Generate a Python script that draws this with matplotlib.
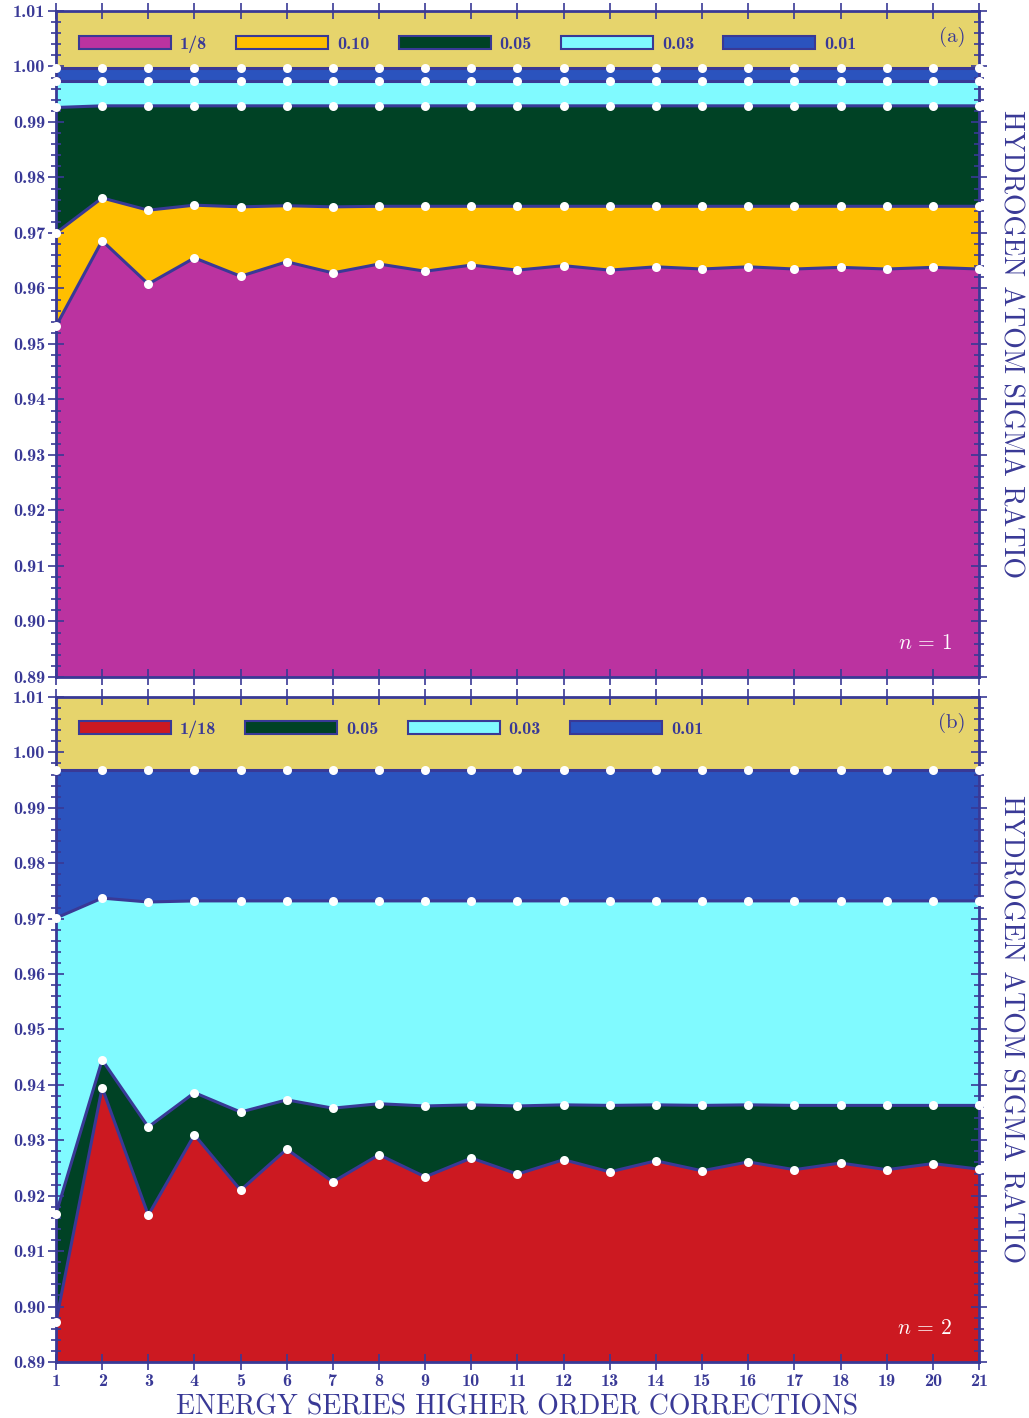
import numpy as np
import matplotlib
matplotlib.use("Agg")
import matplotlib.pyplot as plt
from matplotlib.patches import Patch
from matplotlib.ticker import MultipleLocator, FormatStrFormatter

plt.rcParams['mathtext.fontset'] = 'cm'
plt.rcParams['axes.unicode_minus'] = False

# corrections order
orders = list(range(1, 22))

# panel (a), n = 1
a_frac = [0.9532, 0.9686, 0.9608, 0.9655, 0.9622, 0.9648, 0.9628, 0.9644, 0.9631, 0.9642, 0.9633,
          0.9641, 0.9633, 0.9639, 0.9635, 0.9639, 0.9635, 0.9638, 0.9635, 0.9638, 0.9635]
a_010 = [0.9700, 0.9763, 0.9741, 0.9750, 0.9747, 0.9749, 0.9747, 0.9748, 0.9748, 0.9748, 0.9748,
         0.9748, 0.9748, 0.9748, 0.9748, 0.9748, 0.9748, 0.9748, 0.9748, 0.9748, 0.9748]
a_005 = [0.9926, 0.9929, 0.9929, 0.9929, 0.9929, 0.9929, 0.9929, 0.9929, 0.9929, 0.9929, 0.9929,
         0.9929, 0.9929, 0.9929, 0.9929, 0.9929, 0.9929, 0.9929, 0.9929, 0.9929, 0.9929]
a_003 = [0.9974, 0.9974, 0.9974, 0.9974, 0.9974, 0.9974, 0.9974, 0.9974, 0.9974, 0.9974, 0.9974,
         0.9974, 0.9974, 0.9974, 0.9974, 0.9974, 0.9974, 0.9974, 0.9974, 0.9974, 0.9974]
a_001 = [0.99975, 0.99975, 0.99975, 0.99975, 0.99975, 0.99975, 0.99975, 0.99975, 0.99975, 0.99975, 0.99975,
         0.99975, 0.99975, 0.99975, 0.99975, 0.99975, 0.99975, 0.99975, 0.99975, 0.99975, 0.99975]

# panel (b), n = 2
b_frac = [0.8972, 0.9395, 0.9165, 0.9310, 0.9210, 0.9284, 0.9225, 0.9274, 0.9234, 0.9268, 0.9239,
          0.9265, 0.9243, 0.9263, 0.9245, 0.9261, 0.9247, 0.9259, 0.9247, 0.9258, 0.9248]
b_005 = [0.9167, 0.9445, 0.9324, 0.9386, 0.9351, 0.9373, 0.9358, 0.9366, 0.9362, 0.9364, 0.9362,
         0.9364, 0.9363, 0.9364, 0.9363, 0.9364, 0.9363, 0.9363, 0.9363, 0.9363, 0.9363]
b_003 = [0.9701, 0.9737, 0.9730, 0.9732, 0.9732, 0.9732, 0.9732, 0.9732, 0.9732, 0.9732, 0.9732,
         0.9732, 0.9732, 0.9732, 0.9732, 0.9732, 0.9732, 0.9732, 0.9732, 0.9732, 0.9732]
b_001 = [0.9968, 0.9968, 0.9968, 0.9968, 0.9968, 0.9968, 0.9968, 0.9968, 0.9968, 0.9968, 0.9968,
         0.9968, 0.9968, 0.9968, 0.9968, 0.9968, 0.9968, 0.9968, 0.9968, 0.9968, 0.9968]

a_labels = ['1/8', '0.10', '0.05', '0.03', '0.01']
b_labels = ['1/18', '0.05', '0.03', '0.01']

ink = '#393996'
khaki = '#e6d46c'
c_purple = '#bb33a0'
c_orange = '#ffbf00'
c_green = '#004225'
c_cyan = '#80faff'
c_blue = '#2b53be'
c_red = '#cc1921'

YMIN, YMAX = 0.89, 1.01

fig = plt.figure(figsize=(10.29, 14.18), dpi=100)
ax_a = fig.add_axes([0.0544, 0.5226, 0.8970, 0.4697])
ax_b = fig.add_axes([0.0544, 0.0395, 0.8970, 0.4690])


def draw_panel(ax, series, colors, labels, tag, ntext, show_x, leg_y):
    ax.set_facecolor(khaki)
    lower = [YMIN] * len(orders)
    for s, c in zip(series, colors):
        ax.fill_between(orders, lower, s, color=c, lw=0, zorder=1)
        lower = s
    for s in series:
        ax.plot(orders, s, color=ink, lw=2.2, zorder=3, solid_joinstyle='round')
        ax.plot(orders, s, 'o', color='white', ms=6.5, mec='none', zorder=5, clip_on=False)

    ax.set_xlim(1, 21)
    ax.set_ylim(YMIN, YMAX)
    ax.xaxis.set_major_locator(MultipleLocator(1))
    ax.yaxis.set_major_locator(MultipleLocator(0.01))
    ax.yaxis.set_minor_locator(MultipleLocator(0.002))
    ax.yaxis.set_major_formatter(FormatStrFormatter('%.2f'))

    for sp in ax.spines.values():
        sp.set_color(ink)
        sp.set_linewidth(2)
        sp.set_zorder(4)
    ax.tick_params(which='both', direction='inout', color=ink, top=True, right=True,
                   labelcolor=ink, width=1.2)
    ax.tick_params(which='major', length=11)
    ax.tick_params(which='minor', length=7.5)
    ax.tick_params(axis='y', pad=2)
    ax.tick_params(axis='x', labelbottom=show_x, pad=3)
    for t in ax.get_xticklabels() + ax.get_yticklabels():
        t.set_fontfamily('cmb10')
        t.set_fontsize(13)

    handles = [Patch(facecolor=c, edgecolor=ink, lw=1.5) for c in colors]
    leg = ax.legend(handles, labels, loc='center left', ncol=len(labels), frameon=False,
                    handlelength=5.1, handleheight=0.75, handletextpad=0.5, columnspacing=1.6,
                    borderpad=0, borderaxespad=0, bbox_to_anchor=(0.025, leg_y),
                    prop={'family': 'cmb10', 'size': 13})
    for t in leg.get_texts():
        t.set_color(ink)

    ax.text(0.985, 0.961, tag, transform=ax.transAxes, ha='right', va='center',
            color=ink, fontsize=15, fontfamily='cmr10')
    ax.text(0.971, 0.051, ntext, transform=ax.transAxes, ha='right', va='center',
            color='white', fontsize=15.5)
    ax.text(1.034, 0.5, 'HYDROGEN ATOM SIGMA RATIO', transform=ax.transAxes, rotation=270,
            ha='center', va='center', color=ink, fontsize=20, fontfamily='cmr10')


draw_panel(ax_a, [a_frac, a_010, a_005, a_003, a_001],
           [c_purple, c_orange, c_green, c_cyan, c_blue], a_labels, '(a)', r'$n\,=\,1$', False, 0.9505)
draw_panel(ax_b, [b_frac, b_005, b_003, b_001],
           [c_red, c_green, c_cyan, c_blue], b_labels, '(b)', r'$n\,=\,2$', True, 0.9519)

ax_b.set_xlabel('ENERGY SERIES HIGHER ORDER CORRECTIONS', color=ink, fontsize=20,
                fontfamily='cmr10', labelpad=4)

fig.savefig('out.png', dpi=100)
